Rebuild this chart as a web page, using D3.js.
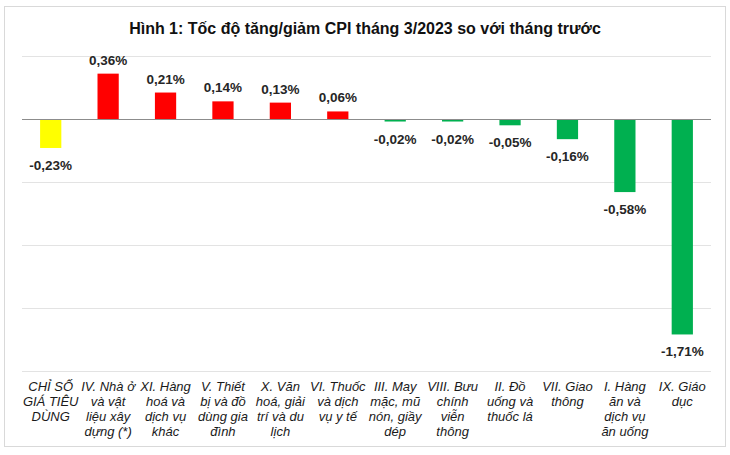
<!DOCTYPE html>
<html>
<head>
<meta charset="utf-8">
<script src="https://cdn.jsdelivr.net/npm/d3@7"></script>
<style>
  body { margin: 0; background: #fff; }
  text { font-family: "Liberation Sans", Arial, sans-serif; }
</style>
</head>
<body>
<div id="chart"></div>
<script>
var categories = [
  ["CHỈ SỐ", "GIÁ TIÊU", "DÙNG"],
  ["IV. Nhà ở", "và vật", "liệu xây", "dựng (*)"],
  ["XI. Hàng", "hoá và", "dịch vụ", "khác"],
  ["V. Thiết", "bị và đồ", "dùng gia", "đình"],
  ["X. Văn", "hoá, giải", "trí và du", "lịch"],
  ["VI. Thuốc", "và dịch", "vụ y tế"],
  ["III. May", "mặc, mũ", "nón, giầy", "dép"],
  ["VIII. Bưu", "chính", "viễn", "thông"],
  ["II. Đồ", "uống và", "thuốc lá"],
  ["VII. Giao", "thông"],
  ["I. Hàng", "ăn và", "dịch vụ", "ăn uống"],
  ["IX. Giáo", "dục"]
];
var values = [-0.23, 0.36, 0.21, 0.14, 0.13, 0.06, -0.02, -0.02, -0.05, -0.16, -0.58, -1.71];
var gridTicks = [0.5, 0, -0.5, -1, -1.5, -2];
var title = "Hình 1: Tốc độ tăng/giảm CPI tháng 3/2023 so với tháng trước";

const W = 730, H = 455;
const plotLeft = 22, plotRight = 711, plotTop = 56, plotBottom = 371;

var svg = d3.select("#chart").append("svg")
  .attr("width", W).attr("height", H);

// outer frame
svg.append("rect")
  .attr("x", 4.5).attr("y", 6.5)
  .attr("width", 721).attr("height", 440)
  .attr("fill", "#fff").attr("stroke", "#d9d9d9");

svg.append("text")
  .attr("x", 365).attr("y", 34)
  .attr("text-anchor", "middle")
  .attr("font-size", 16).attr("font-weight", "bold")
  .attr("fill", "#111")
  .text(title);

const x = d3.scaleBand()
  .domain(d3.range(values.length))
  .range([plotLeft, plotRight])
  .paddingInner(0.63).paddingOuter(0.315);

const y = d3.scaleLinear()
  .domain([-2, 0.5])
  .range([plotBottom, plotTop]);

// gridlines
svg.append("g").selectAll("line")
  .data(gridTicks.filter(d => d !== 0))
  .enter().append("line")
  .attr("x1", plotLeft).attr("x2", plotRight)
  .attr("y1", d => Math.round(y(d)) + 0.5).attr("y2", d => Math.round(y(d)) + 0.5)
  .attr("stroke", "#e3e3e3");

function barColor(d, i) {
  if (i === 0) return "#ffff00";
  return d >= 0 ? "#ff0000" : "#00b050";
}

svg.append("g").selectAll("rect")
  .data(values)
  .enter().append("rect")
  .attr("x", (d, i) => x(i))
  .attr("width", x.bandwidth())
  .attr("y", d => y(Math.max(0, d)))
  .attr("height", d => Math.abs(y(d) - y(0)))
  .attr("fill", barColor);

// zero line
svg.append("line")
  .attr("x1", plotLeft).attr("x2", plotRight)
  .attr("y1", Math.round(y(0)) + 0.5).attr("y2", Math.round(y(0)) + 0.5)
  .attr("stroke", "#8c8c8c");

// value labels
svg.append("g").selectAll("text")
  .data(values)
  .enter().append("text")
  .attr("x", (d, i) => x(i) + x.bandwidth() / 2)
  .attr("y", d => d >= 0 ? y(d) - 9 : y(d) + 22)
  .attr("text-anchor", "middle")
  .attr("font-size", 13.5).attr("font-weight", "bold")
  .attr("fill", "#262626")
  .text(d => d.toFixed(2).replace(".", ",") + "%");

// category labels
var cat = svg.append("g").selectAll("text")
  .data(categories)
  .enter().append("text")
  .attr("x", (d, i) => x(i) + x.bandwidth() / 2)
  .attr("y", 391)
  .attr("text-anchor", "middle")
  .attr("font-size", 13).attr("font-style", "italic")
  .attr("fill", "#1a1a1a");

cat.each(function(lines, i) {
  var t = d3.select(this);
  lines.forEach(function(line, j) {
    t.append("tspan")
      .attr("x", x(i) + x.bandwidth() / 2)
      .attr("dy", j === 0 ? 0 : 15)
      .text(line);
  });
});
</script>
</body>
</html>
